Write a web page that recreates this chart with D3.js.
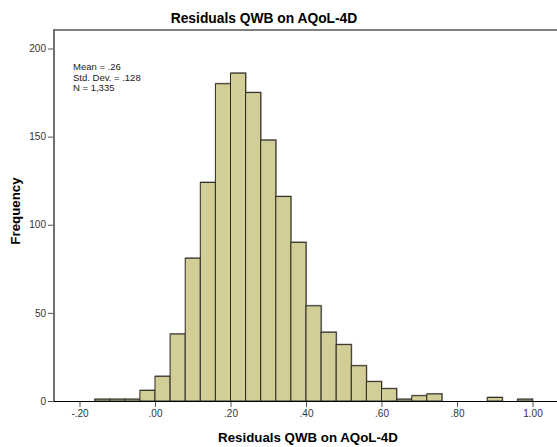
<!DOCTYPE html>
<html>
<head>
<meta charset="utf-8">
<script src="https://cdn.jsdelivr.net/npm/d3@7"></script>
<style>
  body { margin: 0; background: #fff; }
  svg { display: block; font-family: "Liberation Sans", Arial, sans-serif; }
</style>
</head>
<body>
<div id="chart"></div>
<script>
const WIDTH = 557;
const HEIGHT = 447;

// histogram bins (lower edge) and counts, bin width .04
const binStarts = [-0.16, -0.12, -0.08, -0.04, 0.00, 0.04, 0.08, 0.12, 0.16, 0.20, 0.24, 0.28, 0.32,
  0.36, 0.40, 0.44, 0.48, 0.52, 0.56, 0.60, 0.64, 0.68, 0.72, 0.88, 0.96];
const counts = [1, 1, 1, 6, 14, 38, 81, 124, 180, 186, 175, 148, 116,
  90, 54, 39, 32, 20, 11, 7, 1, 3, 4, 2, 1];
const binWidth = 0.04;

const xTicks = [-0.2, 0, 0.2, 0.4, 0.6, 0.8, 1.0];
const xTickLabels = ["-.20", ".00", ".20", ".40", ".60", ".80", "1.00"];
const yTicks = [0, 50, 100, 150, 200];
const statsLines = ["Mean = .26", "Std. Dev. = .128", "N = 1,335"];

const plot = { left: 54, top: 30, right: 557, bottom: 401 };

const x = d3.scaleLinear().domain([-0.2, 1.0]).range([79.5, 532.5]);
const y = d3.scaleLinear().domain([0, 200]).range([plot.bottom, 48.5]);

const svg = d3.select("#chart")
  .append("svg")
  .attr("width", WIDTH)
  .attr("height", HEIGHT);

svg.append("text")
  .attr("x", 264)
  .attr("y", 23)
  .attr("text-anchor", "middle")
  .attr("font-size", 13.8)
  .attr("font-weight", "bold")
  .attr("fill", "#000")
  .text("Residuals QWB on AQoL-4D");

// frame top
svg.append("line")
  .attr("x1", plot.left).attr("x2", plot.right)
  .attr("y1", plot.top).attr("y2", plot.top)
  .attr("stroke", "#808080").attr("stroke-width", 2);

const bins = binStarts.map((s, i) => ({ x0: s, x1: s + binWidth, n: counts[i] }));

// soft shadow under bars
svg.append("g")
  .selectAll("rect")
  .data(bins)
  .join("rect")
  .attr("x", (d) => x(d.x0) + 0.5)
  .attr("y", (d) => y(d.n) - 0.5)
  .attr("width", (d) => x(d.x1) - x(d.x0))
  .attr("height", (d) => plot.bottom - y(d.n))
  .attr("fill", "none")
  .attr("stroke", "#999")
  .attr("stroke-width", 1);

svg.append("g")
  .selectAll("rect")
  .data(bins)
  .join("rect")
  .attr("x", (d) => x(d.x0))
  .attr("y", (d) => y(d.n))
  .attr("width", (d) => x(d.x1) - x(d.x0))
  .attr("height", (d) => plot.bottom - y(d.n))
  .attr("fill", "#d3ce97")
  .attr("stroke", "#2b2b22")
  .attr("stroke-width", 1);

const yAxis = d3.axisLeft(y).tickValues(yTicks).tickSize(6).tickPadding(2).tickSizeOuter(0);
svg.append("g")
  .attr("transform", `translate(${plot.left},0)`)
  .call(yAxis)
  .call((g) => g.select(".domain").remove())
  .call((g) => g.selectAll("text").attr("fill", "#333").attr("font-size", 10).attr("font-family", "Liberation Sans, Arial, sans-serif"))
  .call((g) => g.selectAll("line").attr("stroke", "#555"));

svg.append("line")
  .attr("x1", plot.left).attr("x2", plot.left)
  .attr("y1", plot.top - 1).attr("y2", plot.bottom)
  .attr("stroke", "#707070").attr("stroke-width", 2);

const xAxis = d3.axisBottom(x).tickValues(xTicks).tickFormat((d, i) => xTickLabels[i]).tickSize(6).tickPadding(3);
svg.append("g")
  .attr("transform", `translate(0,${plot.bottom})`)
  .call(xAxis)
  .call((g) => g.select(".domain").remove())
  .call((g) => g.selectAll("text").attr("fill", "#333").attr("font-size", 10).attr("font-family", "Liberation Sans, Arial, sans-serif"))
  .call((g) => g.selectAll("line").attr("stroke", "#555"));

svg.append("line")
  .attr("x1", plot.left).attr("x2", plot.right)
  .attr("y1", plot.bottom + 0.5).attr("y2", plot.bottom + 0.5)
  .attr("stroke", "#000").attr("stroke-width", 1.2);

svg.append("text")
  .attr("x", 308)
  .attr("y", 442)
  .attr("text-anchor", "middle")
  .attr("font-size", 13.3)
  .attr("font-weight", "bold")
  .attr("fill", "#000")
  .text("Residuals QWB on AQoL-4D");

svg.append("text")
  .attr("transform", "translate(20,211) rotate(-90)")
  .attr("text-anchor", "middle")
  .attr("font-size", 13.3)
  .attr("font-weight", "bold")
  .attr("fill", "#000")
  .text("Frequency");

svg.append("g")
  .selectAll("text")
  .data(statsLines)
  .join("text")
  .attr("x", 73)
  .attr("y", (d, i) => 70 + i * 10.5)
  .attr("font-size", 9.5)
  .attr("fill", "#222")
  .text((d) => d);
</script>
</body>
</html>
